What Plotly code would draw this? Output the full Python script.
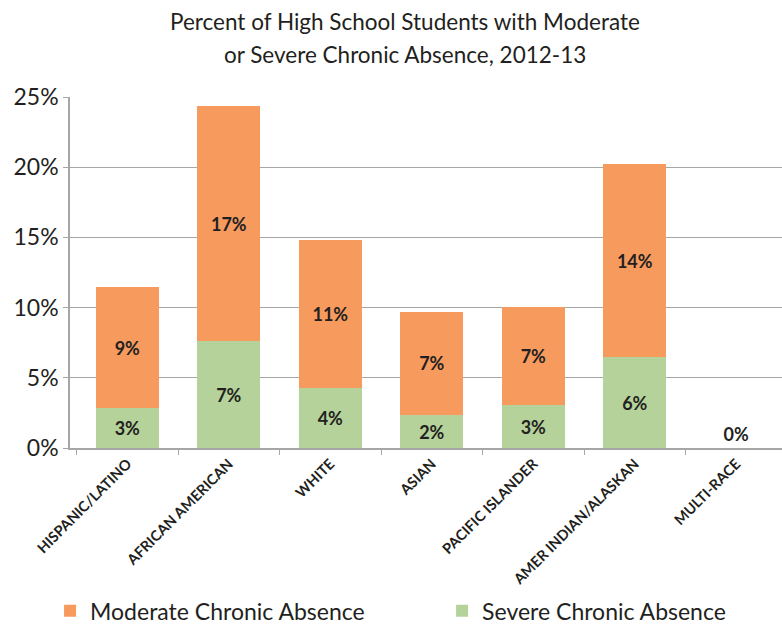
import plotly.graph_objects as go

categories = ["HISPANIC/LATINO", "AFRICAN AMERICAN", "WHITE", "ASIAN",
              "PACIFIC ISLANDER", "AMER INDIAN/ALASKAN", "MULTI-RACE"]
severe = [2.85, 7.6, 4.3, 2.35, 3.05, 6.45, 0.0]
moderate = [8.6, 16.75, 10.5, 7.35, 7.0, 13.8, 0.0]
severe_labels = ["3%", "7%", "4%", "2%", "3%", "6%", ""]
moderate_labels = ["9%", "17%", "11%", "7%", "7%", "14%", "0%"]
yticks = [0, 5, 10, 15, 20, 25]
ytick_text = ["0%", "5%", "10%", "15%", "20%", "25%"]
title_lines = ["Percent of High School Students with Moderate",
               "or Severe Chronic Absence, 2012-13"]

FONT = "Lato"
ORANGE = "#F79A5E"
GREEN = "#B4D29A"
INK = "#231F20"

fig = go.Figure()
fig.add_trace(go.Bar(
    x=categories, y=severe, name="Severe Chronic Absence",
    marker=dict(color=GREEN, line=dict(width=0)),
    text=severe_labels, textposition="inside", insidetextanchor="middle",
    textfont=dict(family=FONT, size=18, color=INK, weight="bold"),
    hoverinfo="skip", legend="legend2",
))
fig.add_trace(go.Bar(
    x=categories, y=moderate, name="Moderate Chronic Absence",
    marker=dict(color=ORANGE, line=dict(width=0)),
    text=moderate_labels,
    textposition=["inside"] * 6 + ["outside"],
    insidetextanchor="middle",
    textfont=dict(family=FONT, size=18, color=INK, weight="bold"),
    cliponaxis=False,
    hoverinfo="skip", legend="legend",
))

fig.add_annotation(text=title_lines[0], xref="paper", yref="paper",
                   x=0.4705, y=1.2137, xanchor="center", yanchor="middle",
                   showarrow=False, font=dict(family=FONT, size=22.5, color=INK))
fig.add_annotation(text=title_lines[1], xref="paper", yref="paper",
                   x=0.4705, y=1.1197, xanchor="center", yanchor="middle",
                   showarrow=False, font=dict(family=FONT, size=22.5, color=INK))

legend_style = dict(orientation="h", yanchor="middle", xanchor="left",
                    font=dict(family=FONT, size=23, color=INK),
                    itemwidth=30, bgcolor="rgba(0,0,0,0)")

fig.update_layout(
    barmode="stack",
    bargap=0.38,
    width=782, height=626,
    margin=dict(l=70, r=0, t=97, b=178, autoexpand=False),
    paper_bgcolor="white", plot_bgcolor="white",
    font=dict(family=FONT, color=INK),
    showlegend=True,
    legend=dict(x=-0.028, y=-0.464, **legend_style),
    legend2=dict(x=0.5226, y=-0.464, **legend_style),
    xaxis=dict(
        range=[-0.5655, 6.45], automargin=False,
        tickangle=-45, tickfont=dict(family=FONT, size=14.5, color=INK, weight="bold"),
        showline=True, linecolor="#A6A6A6", linewidth=1.5,
        ticks="outside", tickson="boundaries", ticklen=5, tickcolor="#A6A6A6",
        showgrid=False,
    ),
    yaxis=dict(
        range=[0, 25], tickvals=yticks, ticktext=ytick_text, automargin=False,
        tickfont=dict(family=FONT, size=23, color=INK),
        showline=True, linecolor="#A6A6A6", linewidth=1.5,
        ticks="outside", ticklen=5, tickcolor="#A6A6A6",
        showgrid=True, gridcolor="#A6A6A6", gridwidth=1.2,
        zeroline=False,
    ),
)

fig.write_html("out.html")
